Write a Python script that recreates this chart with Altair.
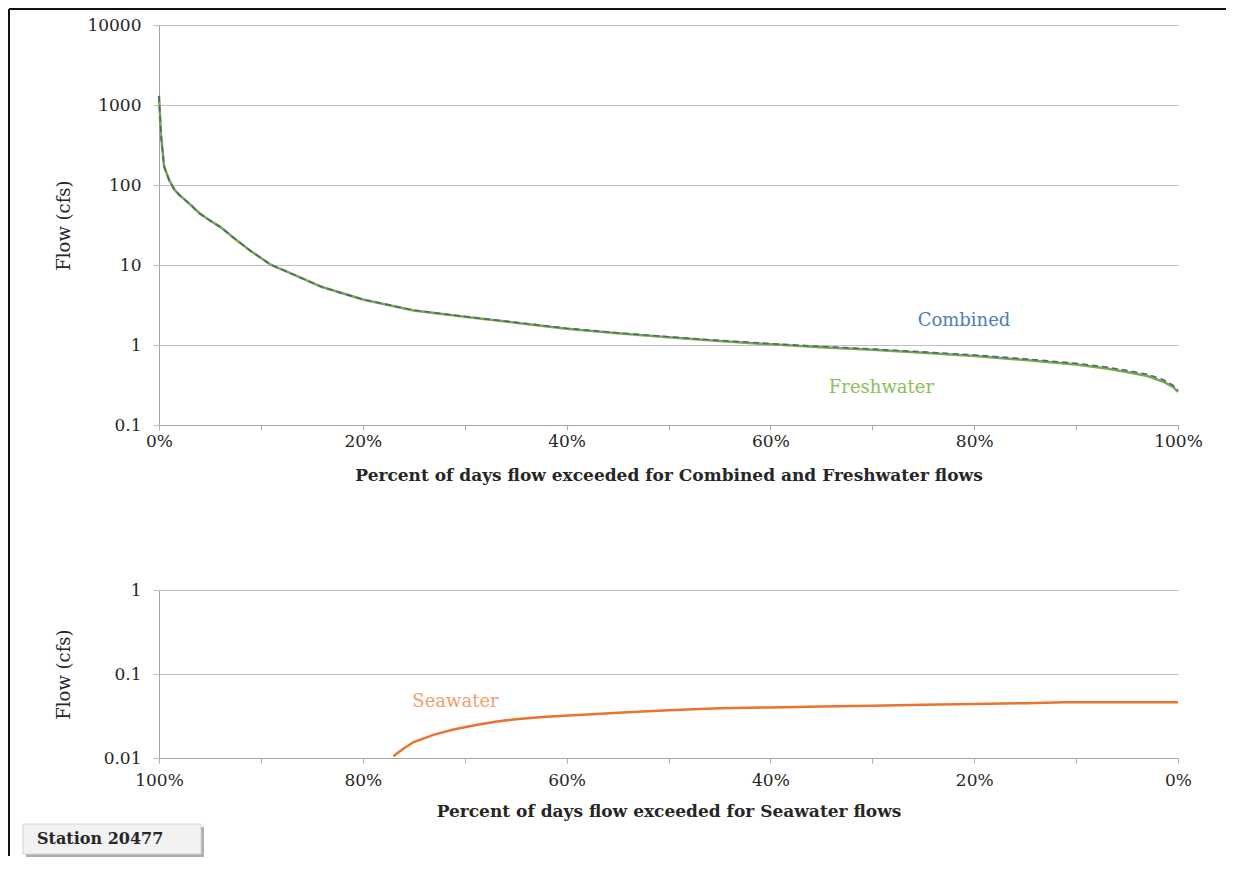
import altair as alt
import pandas as pd

# ---------------- data ----------------
fc_pct = [0, 0.2, 0.5, 1, 1.5, 2, 3, 4, 5, 6, 7.5, 9, 11, 13, 16, 20, 25, 30, 35,
          40, 45, 50, 55, 60, 65, 70, 75, 80, 85, 90, 93, 95, 97, 98.5, 99.5, 100]
freshwater = [1300, 420, 170, 115, 88, 75, 58, 44, 36, 30, 21, 15, 10, 7.8, 5.3,
              3.7, 2.7, 2.25, 1.9, 1.6, 1.4, 1.25, 1.12, 1.02, 0.94, 0.87, 0.8,
              0.73, 0.65, 0.57, 0.51, 0.46, 0.41, 0.35, 0.3, 0.26]
combined = [1300, 420, 170, 115, 88, 75, 58, 44, 36, 30, 21, 15, 10, 7.8, 5.3,
            3.72, 2.72, 2.27, 1.92, 1.62, 1.42, 1.27, 1.14, 1.04, 0.96, 0.89, 0.82,
            0.75, 0.67, 0.59, 0.53, 0.48, 0.43, 0.37, 0.315, 0.27]

sea_pct = [77, 76, 75, 73, 71, 69, 67, 65, 62, 58, 54, 50, 45, 40, 35, 30, 25,
           20, 15, 11, 5, 0]
seawater = [0.0105, 0.013, 0.0155, 0.019, 0.022, 0.0245, 0.027, 0.029, 0.031,
            0.033, 0.035, 0.037, 0.039, 0.040, 0.041, 0.042, 0.043, 0.044, 0.045,
            0.046, 0.046, 0.046]

top_ticks = [0.1, 1, 10, 100, 1000, 10000]
bottom_ticks = [0.01, 0.1, 1]
pct_ticks = [i / 10 for i in range(11)]

labels_top = pd.DataFrame({"pct": [0.79, 0.709], "flow": [2.0, 0.29],
                           "text": ["Combined", "Freshwater"],
                           "color": ["#4f7cba", "#8dbd5c"]})
labels_bottom = pd.DataFrame({"pct": [0.709], "flow": [0.047], "text": ["Seawater"]})
station = pd.DataFrame({"text": ["Station 20477"]})

FONT = "DejaVu Serif"
W = 1019

fresh_df = pd.DataFrame({"pct": [p / 100 for p in fc_pct], "flow": freshwater})
comb_df = pd.DataFrame({"pct": [p / 100 for p in fc_pct], "flow": combined})
sea_df = pd.DataFrame({"pct": [p / 100 for p in sea_pct], "flow": seawater})

label_expr = "round(datum.value*10)%2==0 ? format(datum.value,'.0%') : ''"


def x_axis(title, label_pad, title_pad):
    return alt.Axis(values=pct_ticks, labelExpr=label_expr, grid=False,
                    domainColor="#a6a6a6", tickColor="#b0b0b0", tickSize=5,
                    labelPadding=label_pad, labelFlush=False, labelOverlap=False,
                    title=title, titleFontWeight="bold", titlePadding=title_pad,
                    titleFontSize=17)


def y_axis(values):
    return alt.Axis(values=values, format="~g", grid=True, gridColor="#bfbfbf",
                    domainColor="#a6a6a6", tickColor="#bfbfbf", tickSize=6,
                    labelPadding=12, title="Flow (cfs)", titleFontWeight="normal",
                    titleFontSize=18, titleX=-86)


xs_top = alt.Scale(domain=[0, 1], nice=False)
ys_top = alt.Scale(type="log", domain=[0.1, 10000], nice=False)

fresh_line = alt.Chart(fresh_df).mark_line(color="#78a94a", strokeWidth=2.5).encode(
    x=alt.X("pct:Q", scale=xs_top,
            axis=x_axis("Percent of days flow exceeded for Combined and Freshwater flows", 3, 18)),
    y=alt.Y("flow:Q", scale=ys_top, axis=y_axis(top_ticks)),
)
comb_line = alt.Chart(comb_df).mark_line(color="#4d6783", strokeWidth=1.6,
                                         strokeDash=[6, 4]).encode(
    x="pct:Q", y="flow:Q")
top_text = alt.Chart(labels_top).mark_text(fontSize=18, font=FONT).encode(
    x="pct:Q", y="flow:Q", text="text:N",
    color=alt.Color("color:N", scale=None))

one = pd.DataFrame({"a": [0]})
frame_top = alt.Chart(one).mark_rule(color="#111111", strokeWidth=2).encode(
    x=alt.value(-150), x2=alt.value(1067), y=alt.value(-16))
frame_left = alt.Chart(one).mark_rule(color="#111111", strokeWidth=2).encode(
    x=alt.value(-150), y=alt.value(-16), y2=alt.value(831))

top = alt.layer(frame_top, frame_left, fresh_line, comb_line, top_text).properties(
    width=W, height=400)

xs_bot = alt.Scale(domain=[0, 1], nice=False, reverse=True)
ys_bot = alt.Scale(type="log", domain=[0.01, 1], nice=False)

sea_line = alt.Chart(sea_df).mark_line(color="#e8742e", strokeWidth=2.5).encode(
    x=alt.X("pct:Q", scale=xs_bot,
            axis=x_axis("Percent of days flow exceeded for Seawater flows", 9, 15)),
    y=alt.Y("flow:Q", scale=ys_bot, axis=y_axis(bottom_ticks)),
)
sea_text = alt.Chart(labels_bottom).mark_text(fontSize=18, font=FONT,
                                              color="#f2a06c").encode(
    x="pct:Q", y="flow:Q", text="text:N")

box_shadow = alt.Chart(one).mark_rect(color="#9a9a9a", opacity=0.8).encode(
    x=alt.value(-133), x2=alt.value(45), y=alt.value(237), y2=alt.value(267))
box = alt.Chart(one).mark_rect(fill="#f2f2f2", stroke="#d4d4d4", strokeWidth=1).encode(
    x=alt.value(-136), x2=alt.value(42), y=alt.value(234), y2=alt.value(264))
box_text = alt.Chart(station).mark_text(fontSize=16, font=FONT, fontWeight="bold",
                                        align="left", baseline="middle",
                                        color="#262626").encode(
    x=alt.value(-122), y=alt.value(249), text="text:N")

bottom = alt.layer(sea_line, sea_text, box_shadow, box, box_text).properties(
    width=W, height=168)

chart = alt.vconcat(top, bottom, spacing=165, bounds="flush").properties(padding=0).configure(
    font=FONT
).configure_axis(
    labelFont=FONT, titleFont=FONT, labelFontSize=17, labelColor="#262626",
    titleColor="#262626"
).configure_view(stroke=None)

chart.save("out.html", embed_options={"renderer": "svg", "actions": False})
